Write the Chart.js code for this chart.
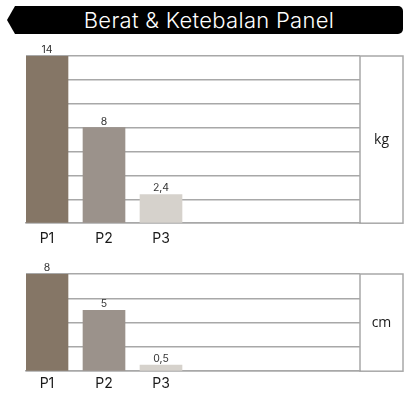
<!DOCTYPE html>
<html>
<head>
<meta charset="utf-8">
<script src="https://cdn.jsdelivr.net/npm/chart.js@4/dist/chart.umd.min.js"></script>
<style>
  html, body { margin: 0; padding: 0; background: #fff; overflow: hidden; }
  body { width: 405px; height: 393px; position: relative; font-family: Inter, "Open Sans", sans-serif; }
  .banner { position: absolute; left: 15px; top: 6px; width: 388px; height: 28px; background: #000;
            border-radius: 0 5px 5px 0; color: #fff; font-size: 22px; font-weight: 300;
            line-height: 28px; text-align: center; letter-spacing: 0.3px; }
  .banner:before { content: ""; position: absolute; left: -8px; top: 0; border-style: solid;
                   border-width: 14px 8px 14px 0; border-color: transparent #000 transparent transparent; }
  .banner span { position: relative; left: 0; }
  canvas { position: absolute; left: 0; }
  #c1 { top: 40px; }
  #c2 { top: 258px; }
</style>
</head>
<body>
<div class="banner"><span>Berat &amp; Ketebalan Panel</span></div>
<canvas id="c1" width="405" height="218"></canvas>
<canvas id="c2" width="405" height="140"></canvas>
<script>
const categories = ['P1', 'P2', 'P3']
const weightKg = [14, 8, 2.4]
const thicknessCm = [8, 5, 0.5]
const barColors = ['#857666', '#9b928b', '#d6d2cc']
const gridColor = '#a8a8a8'

// box with the unit on the right + value labels over the bars
const extras = {
    id: 'extras',
    afterDraw(chart, args, opts) {
        const ctx = chart.ctx
        const a = chart.chartArea
        ctx.save()
        ctx.strokeStyle = gridColor
        ctx.lineWidth = 1.5
        ctx.strokeRect(a.right, a.top, chart.width - 2 - a.right, a.bottom - a.top)
        ctx.fillStyle = '#1a1a1a'
        ctx.font = '14px "Open Sans"'
        ctx.textAlign = 'center'
        ctx.textBaseline = 'middle'
        ctx.fillText(opts.unit, (a.right + chart.width - 2) / 2, (a.top + a.bottom) / 2)

        ctx.fillStyle = '#333'
        ctx.font = '10.5px Inter'
        ctx.textBaseline = 'bottom'
        const meta = chart.getDatasetMeta(0)
        meta.data.forEach((bar, i) => {
            const v = chart.data.datasets[0].data[i].y
            ctx.fillText(String(v).replace('.', ','), bar.x, bar.y - 1)
        })
        ctx.restore()
    }
}

function panelChart(id, values, max, unit, padTop, padBottom, tickPad) {
    const data = {
        datasets: [{
            data: values.map((v, i) => ({ x: i + 1, y: v })),
            backgroundColor: barColors,
            barThickness: 42,
            borderWidth: 0
        }]
    }
    const config = {
        type: 'bar',
        data: data,
        plugins: [extras],
        options: {
            responsive: false,
            animation: false,
            layout: { padding: { left: 26, right: 45, top: padTop, bottom: padBottom } },
            plugins: { legend: { display: false }, tooltip: { enabled: false }, extras: { unit: unit } },
            scales: {
                x: {
                    type: 'linear',
                    offset: false,
                    min: 1 - 21 / 57,
                    max: 1 - 21 / 57 + 334 / 57,
                    grid: { display: false, drawTicks: false, offset: false },
                    border: { display: true, color: gridColor, width: 1.5 },
                    afterBuildTicks: scale => {
                        scale.ticks = categories.map((c, i) => ({ value: i + 1 }))
                    },
                    ticks: {
                        autoSkip: false, maxRotation: 0, padding: tickPad,
                        color: '#1a1a1a', font: { family: 'Inter', size: 14 },
                        callback: v => categories[v - 1] || ''
                    }
                },
                y: {
                    min: 0, max: max,
                    ticks: { display: false, stepSize: 2 },
                    grid: { color: gridColor, lineWidth: 1.5, drawTicks: false },
                    border: { display: false }
                }
            }
        }
    }
    new Chart(document.getElementById(id).getContext('2d'), config)
}

panelChart('c1', weightKg, 14, 'kg', 16, 4, 7)
panelChart('c2', thicknessCm, 8, 'cm', 16, 2, 4)
</script>
</body>
</html>
